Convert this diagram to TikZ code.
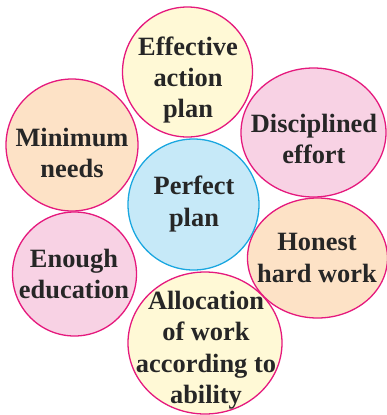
\documentclass[tikz,border=0pt]{standalone}
\usepackage{fontspec}
\setmainfont{Liberation Serif}
\usepackage{xcolor}
\usetikzlibrary{shapes.geometric}

\definecolor{rim}{HTML}{E5197D}
\definecolor{rimblue}{HTML}{1AA7E0}
\definecolor{pyellow}{HTML}{FFF9D6}
\definecolor{ppeach}{HTML}{FDE2C6}
\definecolor{ppink}{HTML}{F8D2E4}
\definecolor{pblue}{HTML}{C6E9F8}

\begin{document}
\begin{tikzpicture}[x=1bp, y=-1bp,
    bubble/.style={ellipse, draw=rim, line width=1.3bp, inner sep=0pt},
    words/.style={align=center, inner sep=0pt,
      font=\fontsize{26.5}{31.5}\selectfont\bfseries, text=black!85}]
    \useasboundingbox (0,0) rectangle (387,415);
    \node[bubble, fill=pyellow, minimum width=130bp, minimum height=130bp] (eff) at (187.5,72) {};
    \node[bubble, fill=ppeach, minimum width=132bp, minimum height=132bp] (need) at (72,145) {};
    \node[bubble, fill=ppink, minimum width=145bp, minimum height=129bp] (disc) at (313.5,132.5) {};
    \node[bubble, fill=ppink, minimum width=124bp, minimum height=124bp] (edu) at (74.5,274) {};
    \node[bubble, fill=ppeach, minimum width=140bp, minimum height=120bp] (hon) at (317.5,258) {};
    \node[bubble, fill=pyellow, minimum width=154bp, minimum height=142bp] (alloc) at (205,343) {};
    \node[bubble, draw=rimblue, fill=pblue, minimum width=131bp, minimum height=131bp] (plan) at (193.5,204.5) {};
    % texts
    \node[words] (efft) at (188,80) {Effective\\action\\plan};
    \node[words] (needt) at (72,153) {Minimum\\needs};
    \node[words] (disct) at (314,139) {Disciplined\\effort};
    \node[words] (edut) at (74,274) {Enough\\education};
    \node[words] (hont) at (317,258) {Honest\\hard work};
    \node[words] (alloct) at (206,350) {Allocation\\of work\\according to\\ability};
    \node[words] (plant) at (194,204) {Perfect\\plan};
  \end{tikzpicture}
\end{document}
